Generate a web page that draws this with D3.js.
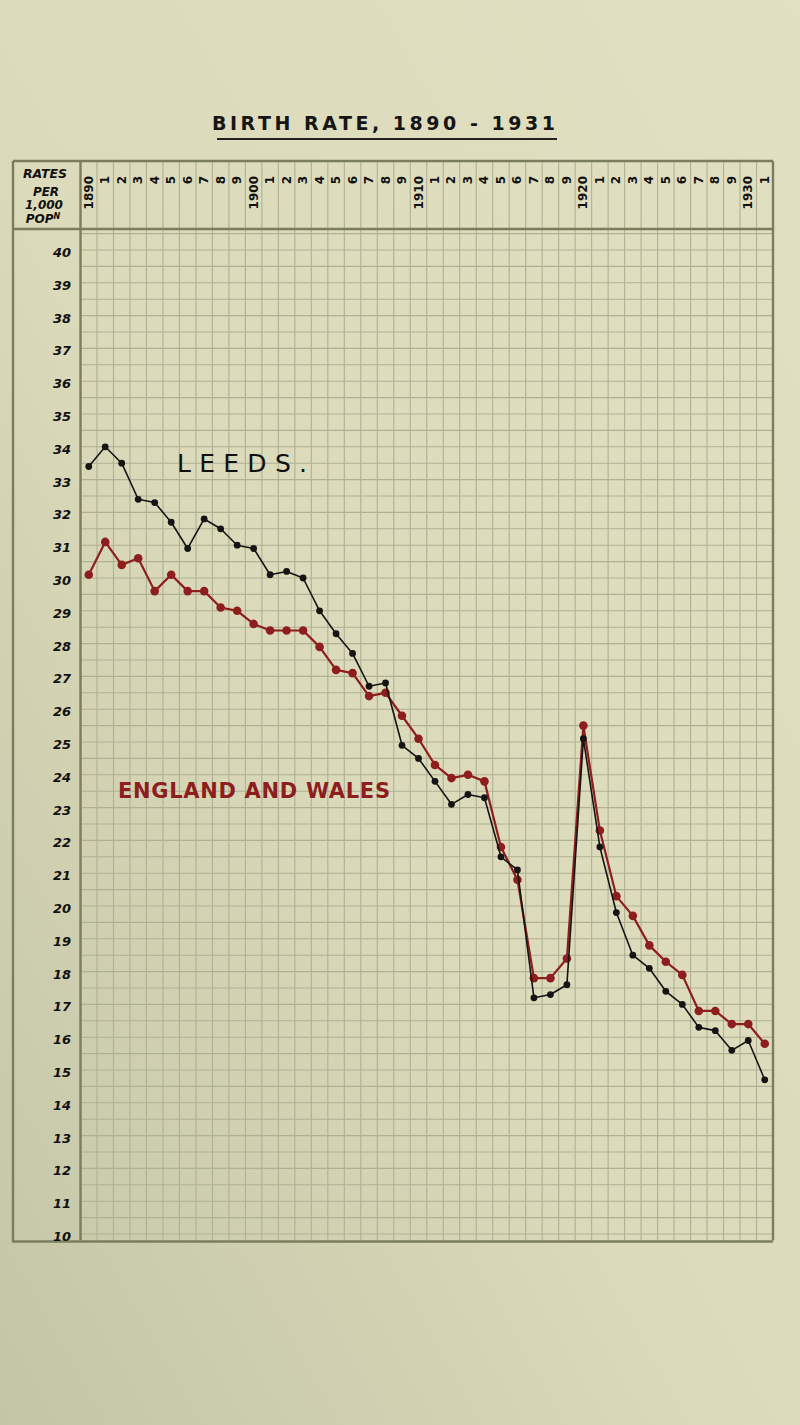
<!DOCTYPE html>
<html><head><meta charset="utf-8">
<script src="https://cdn.jsdelivr.net/npm/d3@7"></script>
<style>body{margin:0;background:#dcdab9}svg{display:block}</style>
</head><body>
<svg id="c" width="800" height="1425"></svg>
<script>
const years = d3.range(1890, 1932);
const leeds = [33.4,34.0,33.5,32.4,32.3,31.7,30.9,31.8,31.5,31.0,
               30.9,30.1,30.2,30.0,29.0,28.3,27.7,26.7,26.8,24.9,
               24.5,23.8,23.1,23.4,23.3,21.5,21.1,17.2,17.3,17.6,
               25.1,21.8,19.8,18.5,18.1,17.4,17.0,16.3,16.2,15.6,
               15.9,14.7];
const englandWales = [30.1,31.1,30.4,30.6,29.6,30.1,29.6,29.6,29.1,29.0,
               28.6,28.4,28.4,28.4,27.9,27.2,27.1,26.4,26.5,25.8,
               25.1,24.3,23.9,24.0,23.8,21.8,20.8,17.8,17.8,18.4,
               25.5,22.3,20.3,19.7,18.8,18.3,17.9,16.8,16.8,16.4,
               16.4,15.8];
const yTicks = d3.range(10, 41);
const title = "BIRTH RATE, 1890 - 1931";

const svg = d3.select("#c");
const defs = svg.append("defs");
const g = defs.append("linearGradient").attr("id","bg").attr("x1","1").attr("y1","0").attr("x2","0").attr("y2","1");
g.append("stop").attr("offset","0").attr("stop-color","#e2e0c2");
g.append("stop").attr("offset","0.55").attr("stop-color","#dbdaba");
g.append("stop").attr("offset","1").attr("stop-color","#c3c5a7");
svg.append("rect").attr("width",800).attr("height",1425).attr("fill","url(#bg)");

const x = d3.scaleLinear().domain([1889.5, 1931.5]).range([80.5, 773]);
const y = d3.scaleLinear().domain([10, 40]).range([1234, 250]);

const gridTop = 229, headTop = 161, bottom = y(9.8), leftOuter = 13;
const gridCol = "#afb193", borderCol = "#7a7e5c";

// title
svg.append("text").attr("x",212).attr("y",130).attr("textLength",343).attr("lengthAdjust","spacing")
  .attr("font-family","DejaVu Sans").attr("font-weight","bold").attr("font-size",19).attr("fill","#151515").text(title);
svg.append("line").attr("x1",217).attr("x2",557).attr("y1",139).attr("y2",139).attr("stroke","#222").attr("stroke-width",1.8);

// grid: vertical lines at year boundaries
const grid = svg.append("g").attr("stroke",gridCol).attr("stroke-width",1.1);
d3.range(1890.5, 1931.5, 1).forEach(b => {
  grid.append("line").attr("x1",x(b)).attr("x2",x(b)).attr("y1",headTop).attr("y2",bottom);
});
d3.range(10, 40.6, 0.5).forEach(v => {
  grid.append("line").attr("x1",x(1889.5)).attr("x2",x(1931.5)).attr("y1",y(v)).attr("y2",y(v));
});

// borders
const b = svg.append("g").attr("stroke",borderCol).attr("stroke-width",2.4).attr("fill","none");
b.append("line").attr("x1",leftOuter).attr("x2",x(1931.5)).attr("y1",headTop).attr("y2",headTop);
b.append("line").attr("x1",leftOuter).attr("x2",x(1931.5)).attr("y1",gridTop).attr("y2",gridTop);
b.append("line").attr("x1",leftOuter).attr("x2",leftOuter).attr("y1",headTop).attr("y2",bottom+2);
b.append("line").attr("x1",x(1889.5)).attr("x2",x(1889.5)).attr("y1",headTop).attr("y2",bottom);
b.append("line").attr("x1",x(1931.5)).attr("x2",x(1931.5)).attr("y1",headTop).attr("y2",bottom);
b.append("line").attr("x1",leftOuter).attr("x2",x(1931.5)).attr("y1",bottom+1).attr("y2",bottom+1);

// header left text
const hl = svg.append("g").attr("font-family","DejaVu Sans").attr("font-weight","bold").attr("font-style","italic")
  .attr("font-size",12).attr("fill","#111").attr("text-anchor","middle");
hl.append("text").attr("x",45).attr("y",178).attr("font-size",12.5).text("RATES");
hl.append("text").attr("x",46).attr("y",196).text("PER");
hl.append("text").attr("x",44).attr("y",209).text("1,000");
const pt = hl.append("text").attr("x",43).attr("y",223).text("POP");
pt.append("tspan").attr("font-size",8).attr("dy",-4).text("N");

// header year labels
const hy = svg.append("g").attr("font-family","DejaVu Sans").attr("font-weight","bold").attr("font-size",12).attr("fill","#111");
years.forEach(yr => {
  const lab = (yr % 10 === 0) ? String(yr) : String(yr % 10);
  hy.append("text").attr("transform",`translate(${x(yr)+4},176) rotate(-90)`)
    .attr("text-anchor","end").text(lab);
});

// y axis labels
const ya = svg.append("g").attr("font-family","DejaVu Sans").attr("font-weight","bold").attr("font-style","italic")
  .attr("font-size",13).attr("fill","#111").attr("text-anchor","end");
yTicks.forEach(v => {
  ya.append("text").attr("x",71).attr("y",y(v)+7).text(v);
});

// lines
const line = d3.line().x((d,i)=>x(years[i])).y(d=>y(d));
function series(data, col, sw, r){
  const s = svg.append("g");
  s.append("path").datum(data).attr("d",line).attr("fill","none").attr("stroke",col).attr("stroke-width",sw).attr("stroke-linejoin","round");
  s.selectAll("circle").data(data).join("circle").attr("cx",(d,i)=>x(years[i])).attr("cy",d=>y(d)).attr("r",r).attr("fill",col);
}
series(englandWales, "#8e1d1d", 2.2, 4.3);
series(leeds, "#141414", 1.6, 3.4);

// labels
svg.append("text").attr("x",177).attr("y",472).attr("font-family","DejaVu Sans").attr("font-size",25)
  .attr("textLength",130).attr("lengthAdjust","spacing").attr("fill","#111").text("LEEDS.");
svg.append("text").attr("x",118).attr("y",798).attr("font-family","DejaVu Sans").attr("font-weight","bold")
  .attr("font-size",21).attr("textLength",272).attr("lengthAdjust","spacing").attr("fill","#8e1d1d").text("ENGLAND AND WALES");
</script>
</body></html>
